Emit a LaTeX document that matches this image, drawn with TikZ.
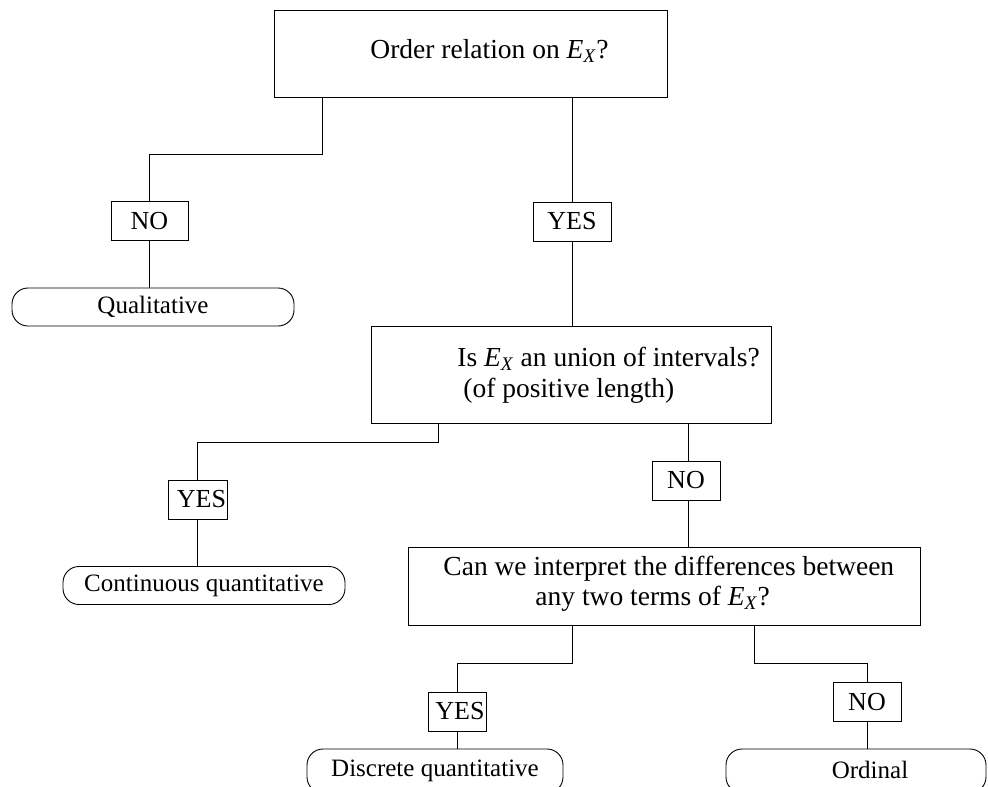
\documentclass[tikz,border=0pt]{standalone}
\usepackage{fontspec}
\setmainfont{Liberation Serif}
\usepackage{tikz}

\newcommand{\EX}{\textit{E}\textsubscript{\textit{X}}}

\begin{document}
\begin{tikzpicture}[x=1pt,y=-1pt,line width=0.9pt,
    qbox/.style={draw,inner sep=0pt},
    ansbox/.style={draw,inner sep=0pt,minimum height=39pt,font=\fontsize{26}{28}\selectfont},
    leaf/.style={draw,rounded corners=16pt,inner sep=0pt,minimum height=38pt,font=\fontsize{25}{27}\selectfont},
    txt/.style={inner sep=0pt,anchor=base west,font=\fontsize{27.5}{30}\selectfont}]
    \useasboundingbox (0,0) rectangle (988,787);
    \clip (0,0) rectangle (988,787);
    % questions
    \node[qbox,minimum width=393pt,minimum height=87pt] (order) at (470.5,53.5) {};
    \node[txt] (order-l1) at (370,58) {Order relation on \EX?};
    \node[qbox,minimum width=400pt,minimum height=97pt] (union) at (571,374.5) {};
    \node[txt] (union-l1) at (457,366) {Is \EX{} an union of intervals?};
    \node[txt] (union-l2) at (463,397) {(of positive length)};
    \node[qbox,minimum width=512pt,minimum height=78pt] (interp) at (664,586) {};
    \node[txt] (interp-l1) at (443,575) {Can we interpret the differences between};
    \node[txt] (interp-l2) at (535,605) {any two terms of \EX?};
    % answers
    \node[ansbox,minimum width=77pt] (no1) at (149.5,221) {NO};
    \node[ansbox,minimum width=78pt] (yes1) at (572,221.5) {YES};
    \node[ansbox,minimum width=59pt] (yes2) at (197.5,499.5) {\hspace*{8pt}YES};
    \node[ansbox,minimum width=68pt] (no2) at (686,480.5) {NO};
    \node[ansbox,minimum width=58pt] (yes3) at (457,711.5) {\hspace*{6pt}YES};
    \node[ansbox,minimum width=68pt] (no3) at (867,702) {NO};
    % leaves
    \node[leaf,minimum width=282pt] (qual) at (153,307) {Qualitative};
    \node[leaf,minimum width=282pt] (cont) at (204,585.5) {Continuous quantitative};
    \node[leaf,minimum width=256pt,minimum height=44pt] (disc) at (435,771) {\raisebox{3pt}{Discrete quantitative}};
    \node[leaf,minimum width=260pt,minimum height=44pt] (ord) at (856,771) {\raisebox{3pt}{\hspace*{28pt}Ordinal}};
    % connectors
    \draw (order.south -| 322,0) |- (no1 |- 0,154) -- (no1.north);
    \draw (order.south -| yes1) -- (yes1.north);
    \draw (no1.south) -- (qual.north -| no1);
    \draw (yes1.south) -- (union.north -| yes1);
    \draw (union.south -| 438,0) |- (yes2 |- 0,442) -- (yes2.north);
    \draw (union.south -| 688,0) -- (no2.north -| 688,0);
    \draw (yes2.south) -- (cont.north -| yes2);
    \draw (no2.south -| 688,0) -- (interp.north -| 688,0);
    \draw (interp.south -| 572,0) |- (yes3 |- 0,663) -- (yes3.north);
    \draw (interp.south -| 754,0) |- (no3 |- 0,663) -- (no3.north);
    \draw (yes3.south) -- (disc.north -| yes3);
    \draw (no3.south) -- (ord.north -| no3);
\end{tikzpicture}
\end{document}
